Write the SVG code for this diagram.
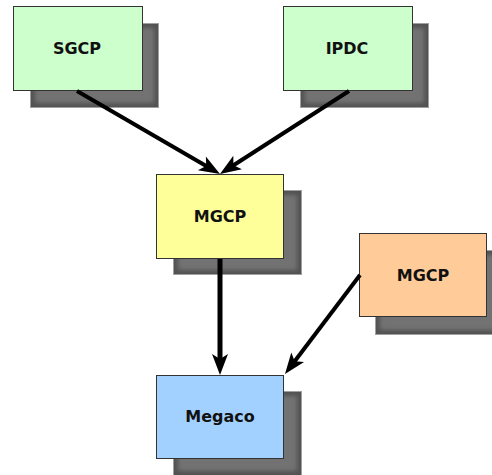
<svg xmlns="http://www.w3.org/2000/svg" width="492" height="475" viewBox="0 0 492 475">
  <style>
    .box { stroke: #333333; stroke-width: 1; }
    .green { fill: #ccffcc; }
    .yellow { fill: #ffff99; }
    .orange { fill: #ffcc99; }
    .blue { fill: #a3d1ff; }
    .sh-base { fill: #525252; stroke: #a0a0a0; stroke-width: 1; }
    .sh-inner { fill: #727272; filter: url(#soft); }
    .label { font-family: "DejaVu Sans", Verdana, sans-serif; font-weight: bold; font-size: 16px; fill: #111111; text-anchor: middle; }
    .conn { stroke: #000000; stroke-width: 4; fill: none; marker-end: url(#head); }
  </style>
  <defs>
    <filter id="soft" x="-10%" y="-10%" width="120%" height="120%">
      <feGaussianBlur stdDeviation="2"/>
    </filter>
    <marker id="head" markerUnits="userSpaceOnUse" viewBox="-10 -10 24 20" refX="0" refY="0" markerWidth="24" markerHeight="20" orient="auto">
      <path d="M12,0 L-9,-8 L-4,0 L-9,8 Z" fill="#000000"/>
    </marker>
  </defs>
  <rect width="492" height="475" fill="#ffffff"/>

  <g id="sgcp">
    <rect class="sh-base" x="30.5" y="23.5" width="128" height="84"/>
    <rect class="sh-inner" x="35" y="28" width="119" height="75"/>
    <rect class="box green" x="13.5" y="6.5" width="129" height="84"/>
    <text class="label" x="77" y="54">SGCP</text>
  </g>

  <g id="ipdc">
    <rect class="sh-base" x="300.5" y="23.5" width="128" height="84"/>
    <rect class="sh-inner" x="305" y="28" width="119" height="75"/>
    <rect class="box green" x="283.5" y="6.5" width="129" height="84"/>
    <text class="label" x="347" y="54">IPDC</text>
  </g>

  <g id="mgcp-center">
    <rect class="sh-base" x="173.5" y="190.5" width="128" height="84"/>
    <rect class="sh-inner" x="178" y="195" width="119" height="75"/>
    <rect class="box yellow" x="156.5" y="174.5" width="127" height="84"/>
    <text class="label" x="220" y="222">MGCP</text>
  </g>

  <g id="mgcp-right">
    <rect class="sh-base" x="375.5" y="250.5" width="128" height="84"/>
    <rect class="sh-inner" x="380" y="255" width="119" height="75"/>
    <rect class="box orange" x="359.5" y="233.5" width="127" height="83"/>
    <text class="label" x="423" y="281">MGCP</text>
  </g>

  <g id="megaco">
    <rect class="sh-base" x="173.5" y="391.5" width="128" height="84"/>
    <rect class="sh-inner" x="178" y="396" width="119" height="75"/>
    <rect class="box blue" x="156.5" y="375.5" width="127" height="83"/>
    <text class="label" x="220" y="422">Megaco</text>
  </g>

  <!-- connectors, drawn over the node shadows -->
  <g id="connectors">
    <line class="conn" x1="77" y1="91" x2="209.65" y2="167.92"/>
    <line class="conn" x1="349" y1="91" x2="230.06" y2="167.45"/>
    <line class="conn" x1="220" y1="259" x2="220" y2="363" style="stroke-width:5"/>
    <line class="conn" x1="360" y1="275" x2="292.25" y2="364.44"/>
  </g>
</svg>
